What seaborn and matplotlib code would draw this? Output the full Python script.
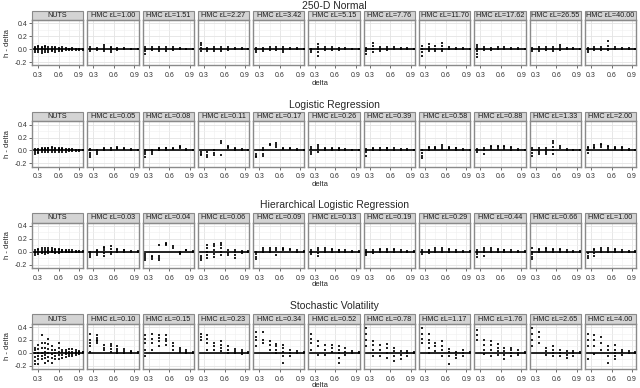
import numpy as np
import pandas as pd
import matplotlib
matplotlib.use("Agg")
import matplotlib.pyplot as plt
from matplotlib.patches import Rectangle
import seaborn as sns

# --- DATA ---
ROW_TITLES = ["250-D Normal", "Logistic Regression",
              "Hierarchical Logistic Regression", "Stochastic Volatility"]

NORMAL_EPS = ["1.00", "1.51", "2.27", "3.42", "5.15", "7.76", "11.70", "17.62", "26.55", "40.00"]
LOGISTIC_EPS = ["0.05", "0.08", "0.11", "0.17", "0.26", "0.39", "0.58", "0.88", "1.33", "2.00"]
HIER_EPS = ["0.03", "0.04", "0.06", "0.09", "0.13", "0.19", "0.29", "0.44", "0.66", "1.00"]
SV_EPS = ["0.10", "0.15", "0.23", "0.34", "0.52", "0.78", "1.17", "1.76", "2.65", "4.00"]

NUTS_DELTA = [0.25, 0.30, 0.35, 0.40, 0.45, 0.50, 0.55, 0.60, 0.65, 0.70, 0.75, 0.80, 0.85, 0.90, 0.95]
HMC_DELTA = [0.25, 0.35, 0.45, 0.55, 0.65, 0.75, 0.85, 0.95]

X_TICKS = [0.3, 0.6, 0.9]
X_TICK_LABELS = ["0.3", "0.6", "0.9"]
Y_TICKS = [-0.2, 0.0, 0.2, 0.4]
Y_TICK_LABELS = ["-0.2", "0.0", "0.2", "0.4"]

# h - delta values, one list per delta column
NORMAL_NUTS = [[-0.04, -0.02, 0.0, 0.02, 0.04], [-0.05, -0.02, 0.01, 0.03, 0.05], [-0.06, -0.03, 0.0, 0.02, 0.04],
               [-0.04, -0.01, 0.01, 0.03, 0.05], [-0.05, -0.02, 0.0, 0.03], [-0.03, -0.01, 0.01, 0.04],
               [-0.04, -0.01, 0.02, 0.03], [-0.03, 0.0, 0.02], [-0.03, -0.01, 0.01, 0.03], [-0.02, 0.0, 0.02],
               [-0.02, 0.0, 0.01], [-0.02, 0.0, 0.02], [-0.01, 0.0, 0.01], [-0.01, 0.0, 0.01], [-0.01, 0.0]]
NORMAL_HMC = [
    [[-0.03, 0.0, 0.03], [-0.02, 0.0, 0.02], [-0.03, 0.0, 0.03, 0.07], [-0.04, -0.01, 0.02, 0.04], [-0.02, 0.0, 0.02], [0.0, 0.02], [0.0, 0.01], [0.0, 0.01]],
    [[-0.07, -0.03, 0.0, 0.03], [-0.02, 0.0, 0.03], [-0.03, 0.0, 0.03], [-0.03, 0.0, 0.04], [-0.02, 0.0, 0.03], [0.0, 0.02], [0.0, 0.01], [0.0, 0.01]],
    [[-0.03, 0.02, 0.06, 0.1], [-0.03, 0.0, 0.02], [-0.03, 0.0, 0.03], [-0.03, 0.0, 0.04], [-0.02, 0.0, 0.03], [0.0, 0.02], [0.0, 0.02], [0.0, 0.01]],
    [[-0.04, -0.01, 0.02], [-0.03, 0.0, 0.02], [-0.02, 0.0, 0.03], [-0.02, 0.0, 0.03], [-0.05, -0.02, 0.0, 0.03], [0.0, 0.02], [0.0, 0.02], [0.0, 0.01]],
    [[-0.05, -0.02, 0.0], [-0.1, -0.05, 0.0, 0.04, 0.08], [-0.02, 0.0, 0.03], [-0.02, 0.0, 0.03], [-0.02, 0.0, 0.02], [0.0, 0.02], [0.0, 0.01], [0.0, 0.01]],
    [[-0.08, -0.03, 0.0, 0.02], [-0.04, 0.0, 0.05, 0.1], [-0.03, 0.0, 0.04], [-0.02, 0.0, 0.03], [0.0, 0.03], [0.0, 0.02], [0.0, 0.02], [0.0, 0.01]],
    [[-0.1, -0.05, 0.0, 0.05], [-0.03, 0.0, 0.04, 0.08], [-0.03, 0.0, 0.05], [-0.03, 0.0, 0.05, 0.1], [0.0, 0.03], [0.0, 0.02], [0.0, 0.02], [0.0, 0.01]],
    [[-0.12, -0.08, -0.03, 0.0, 0.04, 0.07], [-0.02, 0.0, 0.03], [-0.02, 0.0, 0.02], [0.0, 0.03], [0.0, 0.03], [0.0, 0.02], [0.0, 0.02], [0.0, 0.01]],
    [[-0.03, 0.0, 0.02], [-0.03, 0.0, 0.03], [-0.02, 0.0, 0.03], [-0.03, 0.0, 0.04], [-0.02, 0.0, 0.03, 0.07], [0.0, 0.02], [0.0, 0.02], [0.0, 0.01]],
    [[-0.05, -0.02, 0.0, 0.02], [-0.02, 0.0, 0.03], [-0.02, 0.0, 0.04], [-0.02, 0.0, 0.05, 0.12], [0.0, 0.04], [0.0, 0.02], [0.0, 0.02], [0.0, 0.01]],
]

LOGISTIC_NUTS = [[-0.05, -0.03, 0.0, 0.02], [-0.04, -0.02, 0.0, 0.02], [-0.03, 0.0, 0.02, 0.03], [-0.03, 0.0, 0.02, 0.04],
                 [-0.02, 0.01, 0.03, 0.04], [-0.02, 0.01, 0.03, 0.05], [-0.03, 0.0, 0.02, 0.04], [-0.02, 0.0, 0.02, 0.03],
                 [-0.02, 0.0, 0.02, 0.03], [-0.02, 0.0, 0.02], [-0.01, 0.01, 0.02], [-0.01, 0.0, 0.02],
                 [-0.01, 0.0, 0.01], [-0.01, 0.0, 0.01], [0.0, 0.01]]
LOGISTIC_HMC = [
    [[-0.1, -0.07, -0.04, 0.0, 0.02], [-0.05, -0.02, 0.01], [0.0, 0.02, 0.03], [0.01, 0.03], [0.02, 0.04, 0.05], [0.02, 0.04], [0.0, 0.02], [0.0, 0.01]],
    [[-0.1, -0.06, -0.03, 0.0], [-0.05, -0.02, 0.01], [0.0, 0.02, 0.03], [0.01, 0.03, 0.04], [0.02, 0.04], [0.03, 0.06, 0.07], [0.0, 0.02], [0.0, 0.01]],
    [[-0.07, -0.05, -0.02], [-0.1, -0.07, -0.03], [-0.07, -0.04, 0.0], [-0.07, 0.12, 0.15], [0.03, 0.05, 0.07], [0.0, 0.02, 0.03], [0.01, 0.02], [0.0, 0.01]],
    [[-0.1, -0.08, -0.05], [-0.08, -0.05, 0.0, 0.03], [0.08, 0.1], [0.06, 0.09, 0.11], [0.02, 0.04], [0.02, 0.04], [0.0, 0.02], [0.0, 0.01]],
    [[-0.05, -0.02, 0.02, 0.06], [-0.02, 0.02, 0.06, 0.08], [0.0, 0.02, 0.04], [0.0, 0.02, 0.03], [0.0, 0.02, 0.03], [0.0, 0.02], [0.0, 0.01], [0.0, 0.01]],
    [[-0.08, -0.02, 0.0, 0.02], [0.0, 0.02, 0.03], [0.01, 0.03], [0.01, 0.03, 0.04], [0.01, 0.03], [0.01, 0.02], [0.0, 0.02], [0.0, 0.01]],
    [[-0.12, -0.08, -0.04, 0.0], [0.0, 0.03, 0.05], [0.02, 0.04, 0.06], [0.02, 0.05, 0.08], [0.02, 0.04, 0.06], [0.01, 0.03, 0.04], [0.0, 0.02], [0.0, 0.01]],
    [[-0.02, 0.0, 0.02], [-0.06, 0.0, 0.03], [0.02, 0.05, 0.07], [0.02, 0.05, 0.07], [0.02, 0.05, 0.07], [0.01, 0.03, 0.05], [0.0, 0.02], [0.0, 0.01]],
    [[-0.08, -0.04, 0.0, 0.03], [-0.06, -0.02, 0.01, 0.03], [-0.06, -0.03, 0.0, 0.03], [-0.06, 0.0, 0.06, 0.12, 0.15], [0.04, 0.07], [0.0, 0.02], [0.0, 0.01], [0.0, 0.01]],
    [[-0.04, 0.0, 0.03, 0.05], [0.03, 0.05, 0.08], [0.05, 0.08, 0.1], [0.02, 0.05, 0.07], [0.02, 0.04, 0.06], [0.01, 0.03, 0.05], [0.0, 0.02], [0.0, 0.01]],
]

HIER_NUTS = [[-0.05, -0.02, 0.0, 0.03], [-0.03, 0.0, 0.02, 0.04], [-0.02, 0.0, 0.03, 0.05], [-0.03, 0.0, 0.03, 0.05],
             [-0.02, 0.01, 0.03, 0.05], [-0.01, 0.01, 0.03, 0.05], [-0.02, 0.0, 0.03, 0.04], [-0.02, 0.0, 0.02, 0.04],
             [-0.01, 0.0, 0.02, 0.03], [-0.01, 0.01, 0.03], [-0.01, 0.0, 0.02], [-0.01, 0.0, 0.02],
             [-0.01, 0.0, 0.01], [0.0, 0.01], [0.0, 0.01]]
HIER_HMC = [
    [[-0.08, -0.05, -0.02, 0.0], [-0.05, -0.02, 0.01, 0.03], [-0.07, -0.02, 0.02, 0.05, 0.07], [-0.03, 0.0, 0.04, 0.08], [0.0, 0.02, 0.04], [0.0, 0.02, 0.03], [0.0, 0.01], [0.0, 0.01]],
    [[-0.13, -0.1, -0.07, -0.04], [-0.12, -0.09, -0.06], [-0.13, -0.1, -0.06, 0.1], [0.1, 0.12, 0.14], [0.06, 0.08], [-0.04, -0.02, 0.0], [0.02, 0.03], [0.0, 0.01]],
    [[-0.13, -0.1, -0.06], [-0.1, -0.05, 0.0, 0.05, 0.1], [-0.08, -0.03, 0.02, 0.08, 0.12], [-0.05, 0.0, 0.05, 0.1, 0.14], [-0.05, -0.02, 0.02], [-0.1, -0.05, 0.0, 0.02], [-0.02, 0.0, 0.01], [0.0, 0.01]],
    [[-0.12, -0.08, -0.04, 0.0], [0.0, 0.03, 0.05], [0.0, 0.03, 0.06], [-0.05, 0.02, 0.05], [0.02, 0.04, 0.06], [0.02, 0.04], [0.0, 0.02], [0.0, 0.01]],
    [[-0.04, -0.01, 0.02], [-0.07, -0.02, 0.03, 0.06], [0.0, 0.03, 0.05], [0.0, 0.02, 0.04], [0.0, 0.02, 0.03], [0.0, 0.02], [0.0, 0.01], [0.0, 0.01]],
    [[-0.05, -0.02, 0.0, 0.02], [-0.02, 0.0, 0.03], [0.0, 0.02, 0.04], [0.0, 0.03, 0.04], [0.0, 0.02, 0.04], [0.0, 0.02], [0.0, 0.01], [0.0, 0.01]],
    [[-0.04, -0.01, 0.02], [-0.02, 0.01, 0.03], [0.0, 0.03, 0.05], [0.0, 0.03, 0.05], [0.0, 0.02, 0.04], [0.0, 0.02], [0.0, 0.01], [0.0, 0.01]],
    [[-0.08, -0.04, 0.0, 0.02], [-0.06, 0.0, 0.03, 0.05], [0.0, 0.03, 0.06], [0.0, 0.02, 0.04], [0.0, 0.02, 0.03], [0.0, 0.02], [0.0, 0.01], [0.0, 0.01]],
    [[-0.12, -0.08, -0.03, 0.0, 0.05], [0.0, 0.02, 0.04], [0.01, 0.04, 0.06], [0.0, 0.03, 0.04], [0.0, 0.02, 0.04], [0.0, 0.02], [0.0, 0.01], [0.0, 0.01]],
    [[-0.1, -0.06, -0.02], [-0.06, -0.02, 0.02, 0.04], [0.0, 0.03, 0.05], [0.0, 0.03, 0.05], [0.0, 0.02, 0.04], [0.0, 0.02], [0.0, 0.01], [0.0, 0.01]],
]

SV_NUTS = [[-0.18, -0.12, -0.06, 0.0, 0.04, 0.08], [-0.17, -0.1, -0.05, 0.0, 0.06, 0.12], [-0.1, -0.05, 0.0, 0.08, 0.15, 0.27],
           [-0.15, -0.08, -0.03, 0.02, 0.08, 0.15], [-0.12, -0.06, 0.0, 0.06, 0.14, 0.22], [-0.15, -0.08, -0.02, 0.04, 0.1],
           [-0.1, -0.05, 0.0, 0.05], [-0.1, -0.04, 0.02, 0.08, 0.15], [-0.08, -0.03, 0.01, 0.05], [-0.06, -0.02, 0.02, 0.05],
           [-0.05, -0.01, 0.02, 0.06], [-0.05, -0.01, 0.02, 0.06], [-0.03, 0.0, 0.02, 0.04], [-0.02, 0.0, 0.02, 0.03], [0.0, 0.01, 0.02]]
SV_HMC = [
    [[0.02, 0.1, 0.15, 0.2, 0.3], [0.15, 0.18, 0.2, 0.23, 0.28], [0.05, 0.08, 0.12], [0.02, 0.06, 0.1, 0.13], [0.0, 0.03, 0.06, 0.1], [0.0, 0.03, 0.06], [0.0, 0.02, 0.03], [0.0, 0.02]],
    [[-0.05, 0.05, 0.15, 0.22, 0.27], [0.05, 0.15, 0.22, 0.3], [0.1, 0.18, 0.23, 0.28], [0.12, 0.18, 0.22, 0.28], [0.05, 0.1, 0.15], [0.02, 0.05, 0.08], [0.0, 0.02, 0.04], [0.0, 0.01]],
    [[0.2, 0.25, 0.3], [0.05, 0.15, 0.22, 0.28], [0.05, 0.1, 0.15], [0.03, 0.08, 0.12, 0.18], [0.0, 0.05, 0.1], [0.0, 0.03, 0.06], [-0.02, 0.01, 0.04], [0.0, 0.01]],
    [[0.1, 0.2, 0.25, 0.32], [0.15, 0.2, 0.32], [0.05, 0.12, 0.18], [0.0, 0.05, 0.1, 0.14], [-0.15, -0.05, 0.02, 0.08, 0.12], [-0.05, 0.0, 0.05], [0.0, 0.03], [0.0, 0.01]],
    [[0.05, 0.15, 0.22, 0.3], [-0.03, 0.1, 0.18], [-0.03, 0.05, 0.12], [0.02, 0.07, 0.12], [-0.15, -0.08, 0.0, 0.05, 0.1], [-0.03, 0.02, 0.07], [0.0, 0.03], [0.0, 0.01]],
    [[0.1, 0.2, 0.3, 0.38], [-0.05, 0.05, 0.12, 0.18], [-0.05, 0.05, 0.12], [-0.08, 0.0, 0.08, 0.13], [-0.12, -0.05, 0.03, 0.08], [-0.1, -0.03, 0.03], [-0.05, 0.0, 0.03], [0.0, 0.01]],
    [[0.15, 0.22, 0.3, 0.38], [0.0, 0.08, 0.15, 0.2, 0.3], [0.03, 0.1, 0.15], [-0.05, 0.05, 0.1, 0.18], [-0.18, -0.05, 0.02, 0.06], [-0.08, -0.03, 0.02], [-0.05, 0.0, 0.04], [0.0, 0.01]],
    [[0.2, 0.28, 0.35], [-0.02, 0.05, 0.12, 0.2], [-0.05, 0.05, 0.12, 0.18], [-0.03, 0.03, 0.08, 0.14], [-0.1, -0.03, 0.03, 0.08], [-0.05, 0.0, 0.05, 0.08], [-0.04, 0.0, 0.04], [0.0, 0.01]],
    [[0.1, 0.2, 0.3, 0.38], [0.15, 0.25, 0.32], [-0.03, 0.03, 0.08], [-0.05, 0.0, 0.05, 0.1], [-0.05, 0.0, 0.05], [-0.08, -0.03, 0.03], [-0.05, 0.0, 0.03], [0.0, 0.01]],
    [[-0.1, 0.1, 0.2, 0.3], [-0.02, 0.1, 0.2, 0.28], [0.05, 0.15, 0.25], [-0.15, -0.05, 0.05, 0.1], [-0.1, -0.05, 0.0, 0.05, 0.12], [-0.03, 0.02, 0.05], [0.0, 0.03], [0.0, 0.01]],
]

ROWS = [
    (NORMAL_EPS, NORMAL_NUTS, NORMAL_HMC),
    (LOGISTIC_EPS, LOGISTIC_NUTS, LOGISTIC_HMC),
    (HIER_EPS, HIER_NUTS, HIER_HMC),
    (SV_EPS, SV_NUTS, SV_HMC),
]


def build_frame():
    """Long table: one row per point."""
    recs = []
    for r, (eps, nuts, hmc) in enumerate(ROWS):
        for d, col in zip(NUTS_DELTA, nuts):
            for v in col:
                recs.append((r, 0, d, v))
        for p, panel in enumerate(hmc):
            for d, col in zip(HMC_DELTA, panel):
                for v in col:
                    recs.append((r, p + 1, d, v))
    return pd.DataFrame(recs, columns=["row", "panel", "delta", "diff"])


df = build_frame()

sns.set_theme(style="white")
plt.rcParams["font.family"] = ["Liberation Sans", "DejaVu Sans"]

fig = plt.figure(figsize=(6.4, 3.88), dpi=100)
axes = fig.subplots(4, 11)
fig.subplots_adjust(left=0.05, right=0.994, top=0.948, bottom=0.049,
                    wspace=0.078, hspace=1.244)

border = "#8a8a8a"
for r in range(4):
    eps = ROWS[r][0]
    for c in range(11):
        ax = axes[r, c]
        sub = df[(df["row"] == r) & (df["panel"] == c)]
        ax.axhline(0, color="black", lw=1.2, zorder=2)
        sns.scatterplot(data=sub, x="delta", y="diff", ax=ax, color="black",
                        s=4, marker="s", linewidth=0, alpha=0.85, zorder=3, legend=False)
        ax.set_xlim(0.21, 0.96)
        ax.set_ylim(-0.25, 0.45)
        ax.set_xticks(X_TICKS)
        ax.set_xticklabels(X_TICK_LABELS)
        ax.set_xticks([0.45, 0.75], minor=True)
        ax.set_yticks(Y_TICKS)
        ax.set_yticks([-0.1, 0.1, 0.3], minor=True)
        ax.grid(which="major", color="#e3e3e3", lw=0.6)
        ax.grid(which="minor", color="#f0f0f0", lw=0.4)
        ax.set_axisbelow(True)
        ax.tick_params(axis="x", which="major", labelsize=5, length=2, width=0.5,
                       color="#333333", pad=3, bottom=True, labelcolor="#333333")
        ax.tick_params(which="minor", length=0)
        if c == 0:
            ax.set_yticklabels(Y_TICK_LABELS)
            ax.tick_params(axis="y", which="major", labelsize=5, length=2, width=0.5,
                           color="#333333", pad=1.5, left=True, labelcolor="#333333")
        else:
            ax.tick_params(axis="y", which="major", labelleft=False, length=0)
        ax.set_xlabel("")
        ax.set_ylabel("")
        for sp in ax.spines.values():
            sp.set_color(border)
            sp.set_linewidth(1.0)
        # strip header
        ax.add_patch(Rectangle((0, 1.0), 1, 0.21, transform=ax.transAxes,
                               facecolor="#d4d4d4", edgecolor=border, lw=0.8,
                               clip_on=False))
        label = "NUTS" if c == 0 else "HMC \u03b5L=" + eps[c - 1]
        ax.text(0.5, 1.105, label, transform=ax.transAxes, ha="center",
                va="center", fontsize=5.2, color="#1a1a1a")

# row titles, axis labels
title_y = [0.985, 0.729, 0.472, 0.211]
delta_y = [0.786, 0.524, 0.266, 0.006]
for r in range(4):
    fig.text(0.522, title_y[r], ROW_TITLES[r], ha="center", va="center", fontsize=7.5)
    fig.text(0.5, delta_y[r], "delta", ha="center", va="center", fontsize=5.5)
    pos = axes[r, 0].get_position()
    fig.text(0.011, (pos.y0 + pos.y1) / 2, "h - delta", rotation=90,
             ha="center", va="center", fontsize=5.5)

fig.savefig("out.png", dpi=100)
